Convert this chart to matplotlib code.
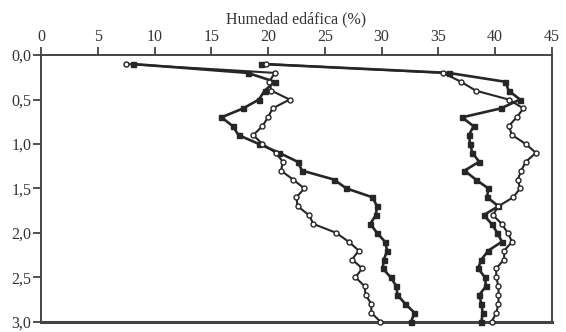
import matplotlib
matplotlib.use("Agg")
import matplotlib.pyplot as plt
import numpy as np

depth = [0.1, 0.2, 0.3, 0.4, 0.5, 0.6, 0.7, 0.8, 0.9, 1.0,
         1.1, 1.2, 1.3, 1.4, 1.5, 1.6, 1.7, 1.8, 1.9, 2.0,
         2.1, 2.2, 2.3, 2.4, 2.5, 2.6, 2.7, 2.8, 2.9, 3.0]

dry_filled = [8.1, 18.2, 20.6, 19.7, 19.2, 17.8, 15.9, 16.9, 17.4, 19.2,
              21.0, 22.6, 23.0, 25.8, 26.9, 29.2, 29.6, 29.5, 29.0, 29.6,
              30.3, 30.5, 30.2, 30.1, 30.8, 31.3, 31.4, 32.1, 32.9, 32.6]

dry_open = [7.5, 20.6, 20.1, 20.3, 21.9, 20.4, 20.0, 19.5, 18.7, 19.5,
            20.7, 21.3, 21.15, 22.2, 23.2, 22.5, 22.6, 23.6, 24.0, 26.0,
            27.1, 28.0, 27.4, 28.3, 27.7, 28.5, 28.6, 29.1, 29.1, 29.9]

wet_filled = [19.4, 35.9, 40.9, 41.2, 42.2, 40.5, 37.1, 38.1, 37.7, 37.8,
              38.0, 38.6, 37.3, 38.3, 39.4, 39.3, 40.3, 39.0, 39.7, 40.2,
              40.6, 39.4, 38.8, 38.5, 39.1, 39.2, 38.6, 38.8, 38.9, 38.8]

wet_open = [19.8, 35.4, 37.0, 38.3, 41.2, 42.5, 41.9, 41.2, 41.5, 42.7,
            43.6, 42.7, 42.3, 42.0, 42.2, 41.6, 40.3, 39.8, 40.6, 41.1,
            41.5, 40.8, 40.8, 40.1, 40.1, 40.3, 40.3, 40.3, 40.1, 39.7]

xticks = [0, 5, 10, 15, 20, 25, 30, 35, 40, 45]
yticks = [0.0, 0.5, 1.0, 1.5, 2.0, 2.5, 3.0]
ytick_labels = ["0,0", "0,5", "1,0", "1,5", "2,0", "2,5", "3,0"]

plt.rcParams['font.family'] = ['Liberation Serif', 'DejaVu Serif']

fig = plt.figure(figsize=(5.66, 3.32), dpi=100)
ax = fig.add_axes([0.0724, 0.031, 0.9026, 0.803])

lc = '#262626'
ax.plot(dry_filled, depth, color=lc, lw=1.9, marker='s', ms=3.6,
        mfc=lc, mec=lc, clip_on=False, zorder=3)
ax.plot(dry_open, depth, color=lc, lw=1.5, marker='o', ms=3.6,
        mfc='white', mec=lc, mew=1.0, clip_on=False, zorder=3)
ax.plot(wet_filled, depth, color=lc, lw=1.9, marker='s', ms=3.6,
        mfc=lc, mec=lc, clip_on=False, zorder=3)
ax.plot(wet_open, depth, color=lc, lw=1.5, marker='o', ms=3.6,
        mfc='white', mec=lc, mew=1.0, clip_on=False, zorder=3)

ax.set_xlim(0, 45)
ax.set_ylim(3.0, 0.0)
ax.xaxis.set_ticks_position('top')
ax.xaxis.set_label_position('top')
ax.set_xticks(xticks)
ax.set_xticklabels([str(t) for t in xticks])
ax.set_yticks(yticks)
ax.set_yticklabels(ytick_labels)
ax.set_xlabel("Humedad edáfica (%)", fontsize=11.5, labelpad=4, color='#333333')

ax.tick_params(axis='x', direction='out', length=6, width=1.2, colors='#333333',
               labelsize=11.5, pad=1)
ax.tick_params(axis='y', direction='out', length=6, width=1.2, colors='#333333',
               labelsize=11.5, pad=1)
for s in ax.spines.values():
    s.set_color('#444444')
    s.set_linewidth(1.4)
ax.spines['bottom'].set_linewidth(2.2)

fig.savefig("out.png", dpi=100)
